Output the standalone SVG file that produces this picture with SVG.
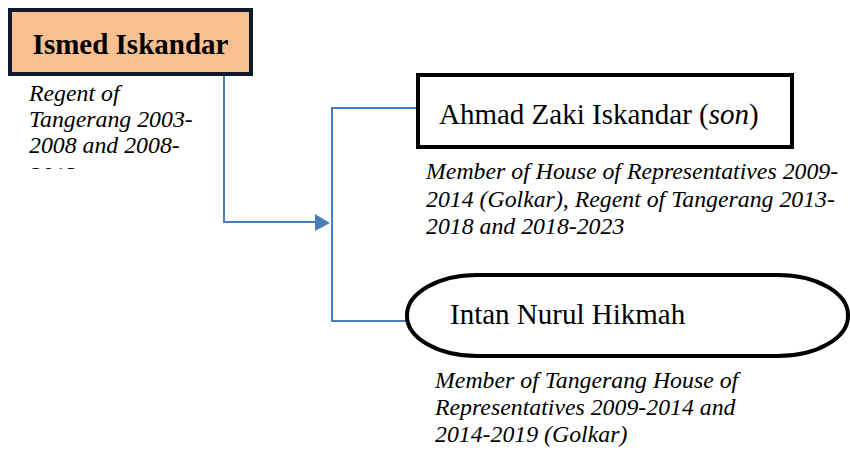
<svg xmlns="http://www.w3.org/2000/svg" width="850" height="450" viewBox="0 0 850 450">
<style>
.name{font-family:"Liberation Serif","Times New Roman",serif;font-size:29px;fill:#000}
.bold{font-weight:bold}
.lbl{font-family:"Liberation Serif","Times New Roman",serif;font-size:23.8px;font-style:italic;fill:#000}
.conn{fill:none;stroke:#4a7ebb;stroke-width:2}
</style>
<defs>
<clipPath id="clipR"><rect x="0" y="78" width="260" height="91"/></clipPath>
</defs>
<rect width="850" height="450" fill="#fff"/>
<g id="connectors">
<path class="conn" d="M224,76 V222 H315"/>
<path d="M315,214 L330,223 L315,231 Z" fill="#4a7ebb"/>
<path class="conn" d="M418,108 H332 V321 H407"/>
</g>
<g id="ismed">
<rect x="10" y="10" width="241" height="64" fill="#f8c090" stroke="#111a2a" stroke-width="4"/>
<text class="name bold" x="130.5" y="54" text-anchor="middle">Ismed Iskandar</text>
<g clip-path="url(#clipR)">
<text class="lbl"><tspan x="29" y="101">Regent of</tspan><tspan x="29" y="127">Tangerang 2003-</tspan><tspan x="29" y="153">2008 and 2008-</tspan><tspan x="29" y="183">2013</tspan></text>
</g>
</g>
<g id="ahmad">
<rect x="418" y="75" width="374" height="72" fill="#fff" stroke="#000" stroke-width="4"/>
<text class="name" x="439" y="124">Ahmad Zaki Iskandar (<tspan font-style="italic">son</tspan>)</text>
<text class="lbl"><tspan x="426" y="179">Member of House of Representatives 2009-</tspan><tspan x="426" y="207">2014 (Golkar), Regent of Tangerang 2013-</tspan><tspan x="426" y="234">2018 and 2018-2023</tspan></text>
</g>
<g id="intan">
<rect x="407" y="275" width="441" height="81" rx="70" ry="40" fill="#fff" stroke="#000" stroke-width="4"/>
<text class="name" x="450" y="324">Intan Nurul Hikmah</text>
<text class="lbl"><tspan x="435" y="388">Member of Tangerang House of</tspan><tspan x="435" y="415">Representatives 2009-2014 and</tspan><tspan x="435" y="442">2014-2019 (Golkar)</tspan></text>
</g>
</svg>
